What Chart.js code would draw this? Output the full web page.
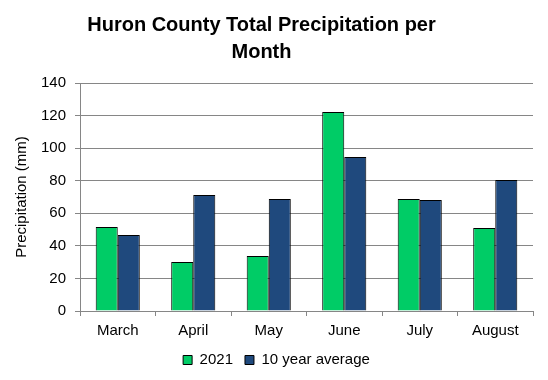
<!DOCTYPE html>
<html>
<head>
<meta charset="utf-8">
<script src="https://cdn.jsdelivr.net/npm/chart.js@4.4.0/dist/chart.umd.min.js"></script>
<style>
  html, body { margin: 0; padding: 0; background: #ffffff; }
  #wrap { width: 548px; height: 380px; }
</style>
</head>
<body>
<div id="wrap"><canvas id="c" width="548" height="380"></canvas></div>
<script>
const months = ['March', 'April', 'May', 'June', 'July', 'August'];
const precip2021 = [51.6, 30.1, 33.8, 122.2, 68.8, 51.0];
const tenYearAvg = [46.6, 71.2, 68.8, 94.5, 68.1, 80.4];
const seriesNames = ['2021', '10 year average'];
const titleLines = ['Huron County Total Precipitation per', 'Month'];
const yAxisTitle = 'Precipitation (mm)';

const FONT = "'Liberation Sans', Arial, sans-serif";
const GRID = '#868686';

const shiftBoxes = {
  id: 'shiftBoxes',
  afterLayout(chart) {
    if (chart.legend) { chart.legend.left += 10; chart.legend.right += 10; }
    if (chart.titleBlock) { chart.titleBlock.left -= 5; chart.titleBlock.right -= 5; }
  }
};

new Chart(document.getElementById('c'), {
  type: 'bar',
  data: {
    labels: months,
    datasets: [
      { label: seriesNames[0], data: precip2021, backgroundColor: '#00CC66', borderColor: '#000000', borderWidth: 1, borderSkipped: 'start' },
      { label: seriesNames[1], data: tenYearAvg, backgroundColor: '#1F497D', borderColor: '#000000', borderWidth: 1, borderSkipped: 'start' }
    ]
  },
  plugins: [shiftBoxes],
  options: {
    responsive: false,
    animation: false,
    devicePixelRatio: 1,
    layout: { padding: { left: 0, right: 15, top: 0, bottom: 2.5 } },
    datasets: { bar: { categoryPercentage: 0.584, barPercentage: 1.0 } },
    plugins: {
      tooltip: { enabled: false },
      title: {
        display: true,
        text: titleLines,
        color: '#000000',
        font: { family: FONT, size: 20, weight: 'bold', lineHeight: 1.35 },
        padding: { top: 12, bottom: 17 }
      },
      legend: {
        display: true,
        position: 'bottom',
        labels: {
          color: '#000000',
          font: { family: FONT, size: 15 },
          boxWidth: 9,
          boxHeight: 9,
          padding: 12
        }
      }
    },
    scales: {
      x: {
        grid: { display: true, drawOnChartArea: false, drawTicks: true, tickLength: 5, color: GRID, offset: true, z: 1 },
        border: { display: true, color: GRID, width: 1, z: 1 },
        ticks: { color: '#000000', font: { family: FONT, size: 15 }, padding: 6, maxRotation: 0 },
        afterFit: function (scale) { scale.height -= 5.5; }
      },
      y: {
        min: 0,
        max: 140,
        ticks: { stepSize: 20, color: '#000000', font: { family: FONT, size: 15 }, padding: 9 },
        grid: { color: GRID, lineWidth: 1, tickLength: 5, drawTicks: true },
        border: { display: true, color: GRID, width: 1 },
        title: {
          display: true,
          text: yAxisTitle,
          color: '#000000',
          font: { family: FONT, size: 15 },
          padding: { top: 13, bottom: 0 }
        },
        afterFit: function (scale) { scale.width = 80; }
      }
    }
  }
});
</script>
</body>
</html>
